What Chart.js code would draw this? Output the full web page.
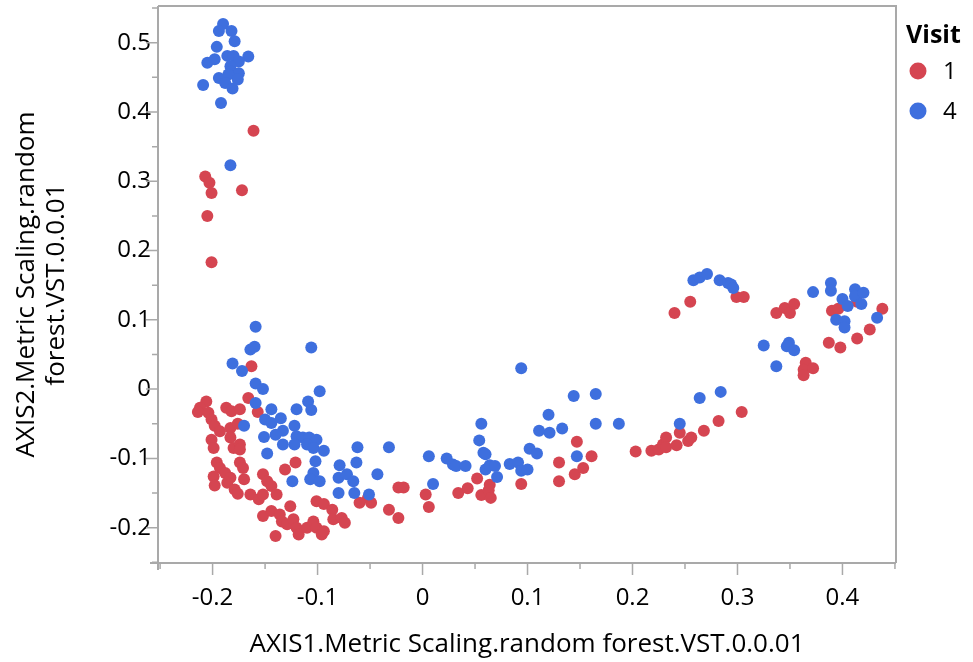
<!DOCTYPE html>
<html>
<head>
<meta charset="utf-8">
<script src="https://cdn.jsdelivr.net/npm/chart.js@4"></script>
<style>
html,body{margin:0;padding:0;background:#fff;}
#wrap{position:relative;width:973px;height:662px;}
</style>
</head>
<body>
<div id="wrap"><canvas id="c" width="973" height="662"></canvas></div>
<script>
// ---- data ----
const seriesNames = ["1", "4"];
const legendTitle = "Visit";
const xTitle = "AXIS1.Metric Scaling.random forest.VST.0.0.01";
const yTitle = ["AXIS2.Metric Scaling.random", "forest.VST.0.0.01"];

const visit1X = [-0.161,-0.207,-0.203,-0.201,-0.172,-0.205,-0.201,
 -0.163,-0.166,-0.157,-0.206,-0.212,-0.214,-0.204,-0.201,-0.198,-0.193,-0.187,-0.182,-0.174,
 -0.183,-0.176,-0.201,-0.199,-0.183,-0.180,-0.174,-0.174,-0.196,-0.193,-0.188,-0.183,-0.186,
 -0.199,-0.198,-0.174,-0.171,-0.170,-0.179,-0.176,-0.164,-0.156,-0.152,-0.152,-0.148,-0.144,
 -0.139,-0.131,-0.121,-0.126,-0.152,-0.144,-0.136,-0.134,-0.129,-0.140,-0.123,-0.120,-0.118,
 -0.101,-0.094,-0.086,-0.085,-0.077,-0.110,-0.104,-0.101,-0.096,-0.094,-0.074,
 -0.023,-0.018,-0.052,-0.060,-0.049,0.003,0.006,-0.032,-0.023,0.034,0.043,0.052,0.056,0.064,
 0.063,0.065,0.094,0.130,0.130,0.145,0.147,
 0.161,0.153,0.203,0.218,0.225,0.229,0.232,0.232,0.242,0.245,0.253,0.256,0.268,0.282,0.304,
 0.255,0.240,0.299,0.306,0.337,0.345,0.350,0.354,0.390,0.396,0.414,0.438,0.426,0.414,0.387,
 0.398,0.365,0.363,0.372,0.363];
const visit1Y = [0.373,0.307,0.298,0.283,0.287,0.250,0.183,
 0.033,-0.013,-0.033,-0.018,-0.027,-0.033,-0.034,-0.044,-0.053,-0.061,-0.027,-0.032,-0.029,
 -0.056,-0.050,-0.073,-0.085,-0.070,-0.085,-0.080,-0.087,-0.106,-0.114,-0.121,-0.128,-0.135,
 -0.126,-0.139,-0.106,-0.114,-0.130,-0.145,-0.151,-0.152,-0.159,-0.152,-0.123,-0.133,-0.140,
 -0.152,-0.116,-0.106,-0.169,-0.183,-0.176,-0.181,-0.191,-0.195,-0.212,-0.188,-0.200,-0.210,
 -0.162,-0.166,-0.174,-0.188,-0.186,-0.200,-0.191,-0.200,-0.210,-0.205,-0.193,
 -0.142,-0.142,-0.157,-0.164,-0.164,-0.152,-0.170,-0.174,-0.186,-0.150,-0.143,-0.129,-0.153,-0.138,
 -0.146,-0.157,-0.137,-0.106,-0.133,-0.123,-0.076,
 -0.097,-0.114,-0.090,-0.089,-0.087,-0.080,-0.070,-0.084,-0.081,-0.063,-0.075,-0.070,-0.060,-0.046,-0.033,
 0.126,0.110,0.133,0.133,0.110,0.117,0.110,0.123,0.113,0.116,0.126,0.116,0.086,0.073,0.067,
 0.060,0.038,0.028,0.030,0.020];

const visit4X = [-0.190,-0.194,-0.182,-0.179,-0.196,-0.166,-0.205,-0.198,-0.186,-0.180,-0.175,
 -0.183,-0.182,-0.175,-0.185,-0.194,-0.188,-0.181,-0.176,-0.209,-0.192,-0.183,
 -0.159,-0.164,-0.160,-0.106,-0.181,-0.172,-0.159,-0.152,-0.098,-0.159,-0.109,-0.106,-0.120,
 -0.144,-0.150,-0.144,-0.135,-0.170,-0.133,-0.140,-0.151,-0.122,-0.120,-0.114,-0.108,-0.101,
 -0.122,-0.110,-0.104,-0.094,-0.133,-0.148,-0.102,-0.104,-0.107,-0.098,-0.124,
 -0.079,-0.080,-0.072,-0.080,-0.066,
 0.094,0.144,0.120,0.111,0.121,0.133,0.056,0.054,0.058,0.060,-0.062,-0.032,0.006,0.023,0.029,
 0.032,0.041,-0.063,-0.043,-0.065,-0.051,0.010,0.060,0.064,0.069,0.071,0.083,0.091,0.094,0.100,
 0.102,0.109,0.147,
 0.165,0.165,0.187,0.245,0.264,0.284,
 0.258,0.264,0.271,0.283,0.291,0.294,0.296,0.372,0.389,0.389,0.400,0.405,0.412,0.412,0.420,
 0.418,0.394,0.402,0.402,0.433,0.325,0.349,0.347,0.354,0.337];
const visit4Y = [0.527,0.517,0.517,0.502,0.494,0.480,0.471,0.476,0.481,0.481,0.473,
 0.466,0.459,0.456,0.454,0.449,0.442,0.434,0.447,0.439,0.413,0.323,
 0.090,0.057,0.061,0.060,0.037,0.026,0.008,0.000,-0.003,-0.020,-0.018,-0.030,-0.029,
 -0.029,-0.044,-0.049,-0.042,-0.053,-0.060,-0.066,-0.069,-0.053,-0.068,-0.070,-0.070,-0.073,
 -0.080,-0.080,-0.085,-0.089,-0.080,-0.093,-0.104,-0.121,-0.130,-0.133,-0.133,
 -0.110,-0.128,-0.123,-0.150,-0.133,
 0.030,-0.010,-0.037,-0.060,-0.063,-0.057,-0.050,-0.074,-0.092,-0.094,-0.084,-0.084,-0.097,-0.100,-0.109,
 -0.111,-0.111,-0.106,-0.123,-0.150,-0.152,-0.137,-0.116,-0.110,-0.111,-0.127,-0.108,-0.106,-0.118,-0.116,
 -0.086,-0.093,-0.097,
 -0.007,-0.050,-0.050,-0.050,-0.013,-0.004,
 0.157,0.161,0.166,0.157,0.153,0.151,0.146,0.140,0.153,0.142,0.130,0.120,0.144,0.134,0.139,
 0.123,0.100,0.098,0.089,0.103,0.063,0.067,0.062,0.056,0.033];

const xTickValues = [-0.2,-0.1,0,0.1,0.2,0.3,0.4];
const yTickValues = [-0.2,-0.1,0,0.1,0.2,0.3,0.4,0.5];

// ---- styling ----
const RED = 'rgb(213,69,81)';
const BLUE = 'rgb(62,111,222)';
const AXIS = '#a9a9a9';
const FONT = "'Open Sans', 'Noto Sans', sans-serif";

const pts = (xs, ys) => xs.map((x, i) => ({x, y: ys[i]}));
const fmt = v => { const r = Math.round(v * 10) / 10; return Math.abs(r) < 1e-9 ? '0' : r.toFixed(1); };

const frame = {
  id: 'frame',
  afterDraw(chart) {
    const ctx = chart.ctx, a = chart.chartArea;
    const xs = chart.scales.x, ys = chart.scales.y;
    ctx.save();
    ctx.strokeStyle = AXIS;
    ctx.lineWidth = 2;
    ctx.beginPath();
    ctx.moveTo(a.left, a.top); ctx.lineTo(a.left, a.bottom + 7);
    ctx.moveTo(a.left - 8, a.bottom); ctx.lineTo(a.right, a.bottom);
    ctx.moveTo(a.left, a.top); ctx.lineTo(a.right, a.top); ctx.lineTo(a.right, a.bottom);
    ctx.stroke();
    ctx.lineWidth = 1.5;
    ctx.beginPath();
    for (let k = -5; k <= 9; k++) {
      const v = k / 10;
      if (v >= xs.min && v <= xs.max) { const p = xs.getPixelForValue(v); ctx.moveTo(p, a.bottom); ctx.lineTo(p, a.bottom + 12); }
      const m = v + 0.05;
      if (m >= xs.min && m <= xs.max) { const p = xs.getPixelForValue(m); ctx.moveTo(p, a.bottom); ctx.lineTo(p, a.bottom + 6); }
      if (v >= ys.min && v <= ys.max) { const p = ys.getPixelForValue(v); ctx.moveTo(a.left, p); ctx.lineTo(a.left - 12, p); }
      if (m >= ys.min && m <= ys.max) { const p = ys.getPixelForValue(m); ctx.moveTo(a.left, p); ctx.lineTo(a.left - 6, p); }
    }
    ctx.stroke();
    // legend
    ctx.fillStyle = '#000';
    ctx.textBaseline = 'middle';
    ctx.textAlign = 'left';
    ctx.font = "bold 25px " + FONT;
    ctx.fillText(legendTitle, 906, 36);
    const cols = [RED, BLUE], ly = [71, 111];
    ctx.font = "24px " + FONT;
    for (let i = 0; i < 2; i++) {
      ctx.fillStyle = cols[i];
      ctx.beginPath(); ctx.arc(918, ly[i], 8.5, 0, Math.PI * 2); ctx.fill();
      ctx.fillStyle = '#000';
      ctx.fillText(seriesNames[i], 943, ly[i] + 1);
    }
    ctx.restore();
  }
};

new Chart(document.getElementById('c'), {
  type: 'scatter',
  data: {
    datasets: [
      {label: seriesNames[1], data: pts(visit4X, visit4Y), backgroundColor: BLUE, borderWidth: 0, pointRadius: 6, pointHoverRadius: 6},
      {label: seriesNames[0], data: pts(visit1X, visit1Y), backgroundColor: RED, borderWidth: 0, pointRadius: 6, pointHoverRadius: 6}
    ]
  },
  options: {
    responsive: false,
    animation: false,
    events: [],
    layout: {padding: {top: 6, right: 77, left: 0, bottom: 0}},
    plugins: {legend: {display: false}, tooltip: {enabled: false}},
    scales: {
      x: {
        type: 'linear', min: -0.252, max: 0.451,
        afterBuildTicks: s => { s.ticks = xTickValues.map(v => ({value: v})); },
        afterFit: s => { s.height = 99; s.paddingLeft = 0; s.paddingRight = 0; },
        grid: {display: false, drawTicks: false},
        border: {display: false},
        ticks: {callback: fmt, color: '#000', font: {family: FONT, size: 24}, padding: 21, maxRotation: 0, autoSkip: false},
        title: {display: true, text: xTitle, color: '#000', font: {family: FONT, size: 26}, padding: {top: 0, bottom: 2}}
      },
      y: {
        type: 'linear', min: -0.251, max: 0.553,
        afterBuildTicks: s => { s.ticks = yTickValues.map(v => ({value: v})); },
        afterFit: s => { s.width = 158; s.paddingTop = 0; s.paddingBottom = 0; },
        grid: {display: false, drawTicks: false},
        border: {display: false},
        ticks: {callback: fmt, color: '#000', font: {family: FONT, size: 24}, padding: 7, autoSkip: false},
        title: {display: true, text: yTitle, color: '#000', font: {family: FONT, size: 26, lineHeight: 1.15}, padding: {top: 12, bottom: 0}}
      }
    }
  },
  plugins: [frame]
});
</script>
</body>
</html>
